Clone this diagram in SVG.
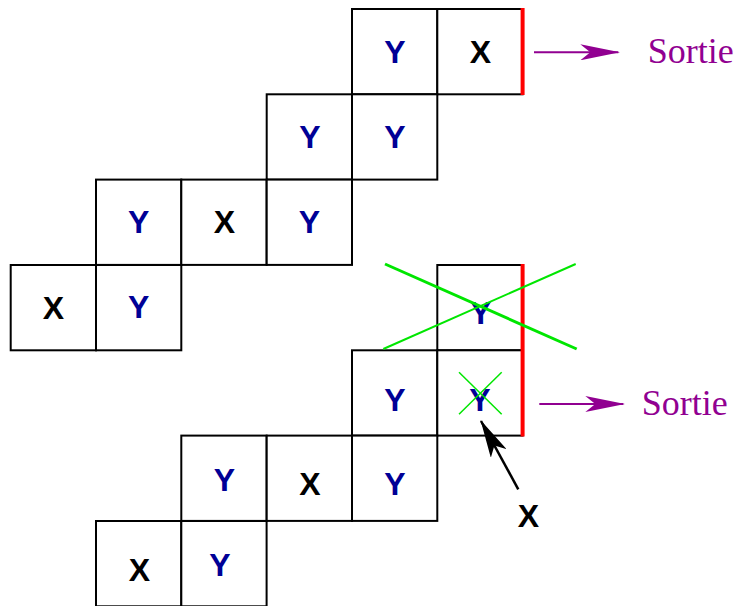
<svg xmlns="http://www.w3.org/2000/svg" width="737" height="606" viewBox="0 0 737 606">
<style>
.c{fill:#fff;stroke:#000;stroke-width:2}
.t{font-family:"Liberation Sans",Arial,sans-serif;font-weight:bold;font-size:32px;text-anchor:middle}
.y{fill:#000096}
.x{fill:#000}
.s{font-family:"Liberation Serif","Times New Roman",serif;font-size:36px;fill:#910091}
.red{stroke:#ff0000;stroke-width:4}
.g{stroke:#00e600;fill:none}
.pa{stroke:#910091;stroke-width:2;fill:none}
</style>
<defs>
<marker id="ph" viewBox="0 0 40 16" refX="38" refY="8" markerWidth="40" markerHeight="16" markerUnits="userSpaceOnUse" orient="auto">
<path d="M0,0 L40,8 L0,16 L10,8 Z" fill="#910091"/>
</marker>
<marker id="bh" viewBox="0 0 38 18" refX="37" refY="9" markerWidth="38" markerHeight="18" markerUnits="userSpaceOnUse" orient="auto">
<path d="M0,0 L38,9 L0,18 L9,9 Z" fill="#000"/>
</marker>
</defs>
<g id="top">
<g id="t11"><rect class="c" x="352" y="9" width="85.3" height="85.3"/><text class="t y" x="395" y="63">Y</text></g>
<g id="t12"><rect class="c" x="437.3" y="9" width="85.3" height="85.3"/><text class="t x" x="480.3" y="63">X</text></g>
<g id="t21"><rect class="c" x="266.7" y="94.3" width="85.3" height="85.3"/><text class="t y" x="310" y="148">Y</text></g>
<g id="t22"><rect class="c" x="352" y="94.3" width="85.3" height="85.3"/><text class="t y" x="395" y="148">Y</text></g>
<g id="t31"><rect class="c" x="96" y="179.6" width="85.3" height="85.3"/><text class="t y" x="138.7" y="233">Y</text></g>
<g id="t32"><rect class="c" x="181.3" y="179.6" width="85.3" height="85.3"/><text class="t x" x="224.3" y="233.3">X</text></g>
<g id="t33"><rect class="c" x="266.7" y="179.6" width="85.3" height="85.3"/><text class="t y" x="309.3" y="233">Y</text></g>
<g id="t41"><rect class="c" x="10.7" y="265" width="85.3" height="85.3"/><text class="t x" x="53.3" y="319">X</text></g>
<g id="t42"><rect class="c" x="96" y="265" width="85.3" height="85.3"/><text class="t y" x="138.7" y="318.3">Y</text></g>
</g>
<g id="bottom">
<g id="b11"><rect class="c" x="437.3" y="265" width="85.3" height="85.3"/><text class="t y" x="480.7" y="324">Y</text></g>
<g id="b21"><rect class="c" x="352" y="350.3" width="85.3" height="85.3"/><text class="t y" x="395" y="410.7">Y</text></g>
<g id="b22"><rect class="c" x="437.3" y="350.3" width="85.3" height="85.3"/><text class="t y" x="480" y="411">Y</text></g>
<g id="b31"><rect class="c" x="181.3" y="435.6" width="85.3" height="85.3"/><text class="t y" x="224.3" y="490.7">Y</text></g>
<g id="b32"><rect class="c" x="266.7" y="435.6" width="85.3" height="85.3"/><text class="t x" x="310" y="495">X</text></g>
<g id="b33"><rect class="c" x="352" y="435.6" width="85.3" height="85.3"/><text class="t y" x="395" y="495">Y</text></g>
<g id="b41"><rect class="c" x="96" y="521" width="85.3" height="85.3"/><text class="t x" x="139.3" y="580.7">X</text></g>
<g id="b42"><rect class="c" x="181.3" y="521" width="85.3" height="85.3"/><text class="t y" x="220" y="575.7">Y</text></g>
</g>
<g id="marks">
<line class="red" x1="522.6" y1="8" x2="522.6" y2="95"/>
<line class="red" x1="522.6" y1="264" x2="522.6" y2="436.6"/>
<line class="g" stroke-width="3" x1="385" y1="264" x2="576.7" y2="349"/>
<line class="g" stroke-width="2" x1="383.3" y1="349" x2="575.7" y2="264"/>
<line class="g" stroke-width="1.5" x1="459" y1="372.3" x2="501.7" y2="414.3"/>
<line class="g" stroke-width="1.5" x1="459" y1="414.3" x2="501.7" y2="372.3"/>
</g>
<g id="connectors">
<line class="pa" x1="534" y1="52.3" x2="618.3" y2="52.3" marker-end="url(#ph)"/>
<line class="pa" x1="539.3" y1="404" x2="623.3" y2="404" marker-end="url(#ph)"/>
<line stroke="#000" stroke-width="2.5" x1="518.3" y1="489.3" x2="481" y2="421" marker-end="url(#bh)"/>
</g>
<g id="labels">
<text class="s" x="647.7" y="63.3">Sortie</text>
<text class="s" x="641.7" y="415">Sortie</text>
<text class="t x" x="528.3" y="527.3">X</text>
</g>
</svg>
